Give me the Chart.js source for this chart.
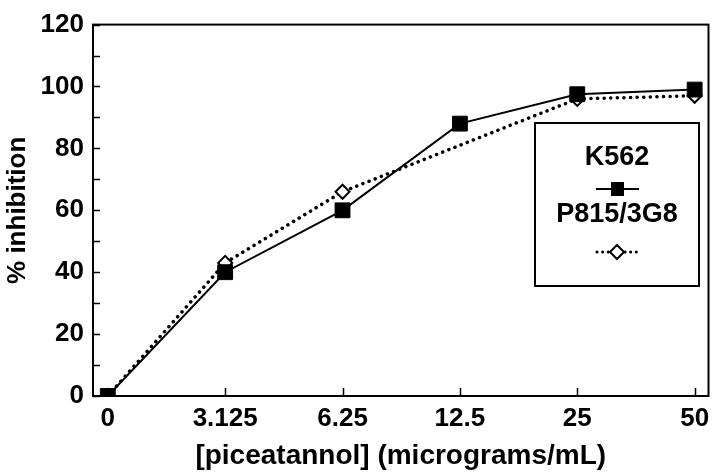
<!DOCTYPE html>
<html>
<head>
<meta charset="utf-8">
<script src="https://cdn.jsdelivr.net/npm/chart.js@4/dist/chart.umd.min.js"></script>
<style>
  html, body { margin: 0; padding: 0; background: #fff; }
  #wrap { position: relative; width: 720px; height: 473px; }
</style>
</head>
<body>
<div id="wrap"><canvas id="c" width="720" height="473"></canvas></div>
<script>
const categories = ['0', '3.125', '6.25', '12.5', '25', '50'];
const k562 = [0, 40, 60, 88, 97.5, 99];
const p815 = [0, 43, 66, null, 96, 97];
const yTicks = [0, 20, 40, 60, 80, 100, 120];
const seriesNames = ['K562', 'P815/3G8'];
const xTitle = '[piceatannol] (micrograms/mL)';
const yTitle = '% inhibition';

const FONT = '"Liberation Sans", Arial, Helvetica, sans-serif';

const frameAndTicks = {
  id: 'frameAndTicks',
  afterDatasetsDraw(chart) {
    const ctx = chart.ctx;
    const a = chart.chartArea;
    const xs = chart.scales.x, ys = chart.scales.y;
    ctx.save();
    ctx.strokeStyle = '#000';
    ctx.lineWidth = 1.5;
    ctx.beginPath();
    for (let v = 0; v <= 120; v += 10) {
      const py = Math.round(ys.getPixelForValue(v)) + 0.5;
      ctx.moveTo(a.left, py);
      ctx.lineTo(a.left + 7, py);
    }
    for (let i = 0; i < categories.length; i++) {
      const px = Math.round(xs.getPixelForValue(i)) + 0.5;
      ctx.moveTo(px, a.bottom);
      ctx.lineTo(px, a.bottom - 8);
    }
    ctx.stroke();
    ctx.lineWidth = 2;
    ctx.strokeRect(a.left, a.top, a.right - a.left, a.bottom - a.top);
    ctx.restore();
  }
};

const legendBox = {
  id: 'legendBox',
  afterDraw(chart) {
    const ctx = chart.ctx;
    const ds = chart.data.datasets;
    const bx = 535, by = 123, bw = 164, bh = 163;
    const cx = bx + bw / 2;
    ctx.save();
    ctx.fillStyle = '#fff';
    ctx.fillRect(bx, by, bw, bh);
    ctx.strokeStyle = '#000';
    ctx.lineWidth = 2;
    ctx.strokeRect(bx, by, bw, bh);
    ctx.fillStyle = '#000';
    ctx.font = 'bold 27px ' + FONT;
    ctx.textAlign = 'center';
    ctx.textBaseline = 'middle';
    ctx.fillText(ds[0].label, cx, 158);
    ctx.fillText(ds[1].label, cx, 215);
    // K562 sample
    ctx.lineWidth = 2;
    ctx.beginPath();
    ctx.moveTo(cx - 21, 189);
    ctx.lineTo(cx + 22, 189);
    ctx.stroke();
    ctx.fillRect(cx - 6, 182, 13, 14);
    // P815 sample
    ctx.lineWidth = 3;
    ctx.lineCap = 'round';
    ctx.setLineDash([0.1, 5.5]);
    ctx.beginPath();
    ctx.moveTo(cx - 20, 252);
    ctx.lineTo(cx + 22, 252);
    ctx.stroke();
    ctx.setLineDash([]);
    ctx.lineCap = 'butt';
    ctx.fillStyle = '#fff';
    ctx.lineWidth = 2;
    ctx.beginPath();
    ctx.moveTo(cx, 245);
    ctx.lineTo(cx + 7, 252);
    ctx.lineTo(cx, 259);
    ctx.lineTo(cx - 7, 252);
    ctx.closePath();
    ctx.fill();
    ctx.stroke();
    ctx.restore();
  }
};

new Chart(document.getElementById('c'), {
  type: 'line',
  data: {
    labels: categories,
    datasets: [
      {
        label: seriesNames[0],
        data: k562.map((v, i) => ({ x: i, y: v })),
        borderColor: '#000',
        backgroundColor: '#000',
        borderWidth: 2,
        pointStyle: 'rect',
        pointRadius: 10.5,
        pointBorderWidth: 1,
        pointBackgroundColor: '#000',
        pointBorderColor: '#000',
        tension: 0
      },
      {
        label: seriesNames[1],
        data: p815.map((v, i) => ({ x: i, y: v })),
        borderColor: '#000',
        borderWidth: 3.5,
        borderDash: [0.1, 6.5],
        borderCapStyle: 'round',
        spanGaps: true,
        pointStyle: 'rectRot',
        pointRadius: 7,
        pointBorderWidth: 2,
        pointBackgroundColor: '#fff',
        pointBorderColor: '#000',
        tension: 0
      }
    ]
  },
  options: {
    responsive: false,
    animation: false,
    events: [],
    layout: { padding: { top: 12, right: 4, left: 0, bottom: 0 } },
    plugins: {
      legend: { display: false },
      tooltip: { enabled: false },
      title: { display: false }
    },
    scales: {
      x: {
        type: 'linear',
        min: -0.126,
        max: 5.118,
        afterBuildTicks: (s) => { s.ticks = categories.map((c, i) => ({ value: i })); },
        afterFit: (s) => { s.height = 77; },
        grid: { display: false, drawTicks: false },
        border: { display: false },
        ticks: {
          color: '#000',
          font: { family: FONT, size: 26, weight: 'bold' },
          padding: 7,
          maxRotation: 0,
          autoSkip: false,
          callback: (v) => categories[v]
        },
        title: {
          display: true,
          text: xTitle,
          color: '#000',
          font: { family: FONT, size: 28, weight: 'bold' },
          padding: { top: 0, bottom: 0 }
        }
      },
      y: {
        min: 0,
        max: 120,
        afterBuildTicks: (s) => { s.ticks = yTicks.map(v => ({ value: v })); },
        afterFit: (s) => { s.width = 93; },
        grid: { display: false, drawTicks: false },
        border: { display: false },
        ticks: {
          color: '#000',
          font: { family: FONT, size: 26, weight: 'bold' },
          padding: 9
        },
        title: {
          display: true,
          text: yTitle,
          color: '#000',
          font: { family: FONT, size: 26, weight: 'bold' },
          padding: { top: 2, bottom: 0 }
        }
      }
    }
  },
  plugins: [frameAndTicks, legendBox]
});
</script>
</body>
</html>
